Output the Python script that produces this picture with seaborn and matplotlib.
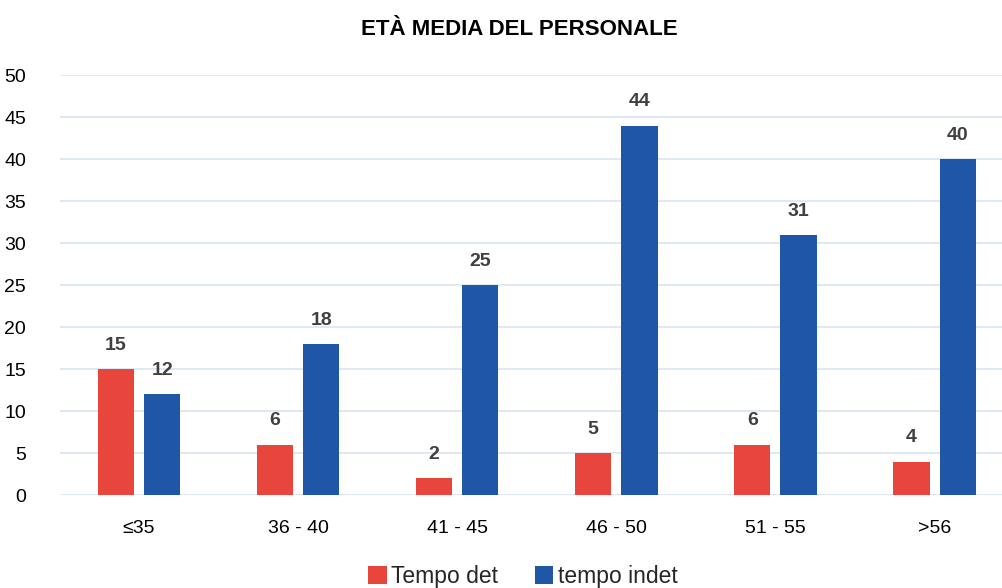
import pandas as pd
import matplotlib.pyplot as plt
import seaborn as sns

# dati
categorie = ['≤35', '36 - 40', '41 - 45', '46 - 50', '51 - 55', '>56']
tempo_det = [15, 6, 2, 5, 6, 4]
tempo_indet = [12, 18, 25, 44, 31, 40]
serie = ['Tempo det', 'tempo indet']
colori = ['#E8453C', '#1F56A6']

df = pd.DataFrame({
    'Classe': categorie * 2,
    'Valore': tempo_det + tempo_indet,
    'Serie': [serie[0]] * len(categorie) + [serie[1]] * len(categorie),
})

sns.set_style('white')
plt.rcParams['font.family'] = ['Liberation Sans', 'DejaVu Sans']

fig = plt.figure(figsize=(10.02, 5.88), dpi=100)
ax = fig.add_axes([0.0594, 0.158, 0.9527, 0.714])

sns.barplot(data=df, x='Classe', y='Valore', hue='Serie', palette=colori,
            width=0.58, gap=0.217, ax=ax, saturation=1, linewidth=0)

for cont in ax.containers:
    ax.bar_label(cont, padding=11, fontsize=14, fontweight='bold', color='#404040')

ax.set_ylim(0, 50)
ax.set_xlim(-0.5, 5.5)
ax.set_yticks(range(0, 51, 5))
ax.yaxis.grid(True, color='#DCE6F2', linewidth=1.3)
ax.set_axisbelow(True)
for s in ax.spines.values():
    s.set_visible(False)
ax.tick_params(axis='y', labelsize=14, pad=24, length=0, labelcolor='#000000')
ax.tick_params(axis='x', labelsize=14, pad=18, length=0, labelcolor='#000000')
ax.set_xlabel('')
ax.set_ylabel('')

fig.suptitle('ETÀ MEDIA DEL PERSONALE', x=0.518, y=0.968, fontsize=16,
             fontweight='bold', color='#000000')

leg = ax.legend(loc='center', bbox_to_anchor=(0.522, 0.02), bbox_transform=fig.transFigure,
                ncol=2, frameon=False, fontsize=16.5, handlelength=0.8, handleheight=0.8,
                handletextpad=0.2, columnspacing=1.6, borderaxespad=0, borderpad=0)

fig.savefig('out.png', dpi=100)
